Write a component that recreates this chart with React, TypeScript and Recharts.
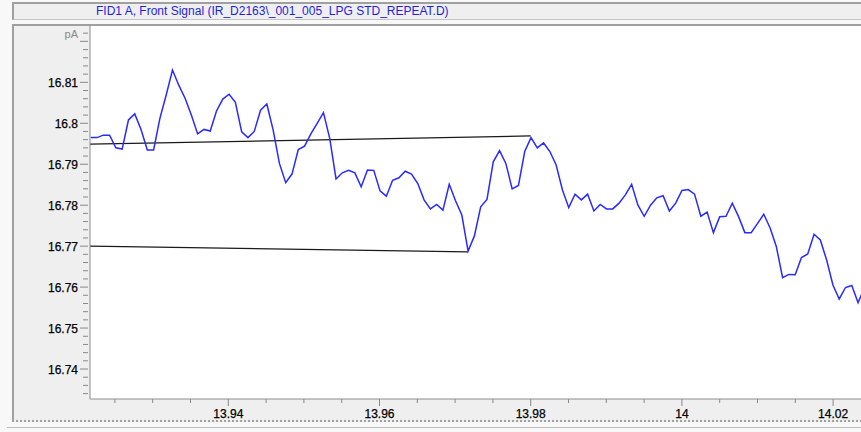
import React from 'react';
import { LineChart, Line, XAxis, YAxis, CartesianGrid } from 'recharts';

// Sampling grid of the detector signal (minutes)
const START_TIME = 13.9218;
const SAMPLE_STEP = 0.000832;

// FID1 A signal values (pA), one per sample
const signalValues = [
  16.7965, 16.7965, 16.7971, 16.7971, 16.794, 16.7937, 16.8008, 16.8023, 16.7985, 16.7935,
  16.7935, 16.8012, 16.8069, 16.813, 16.8093, 16.8061, 16.802, 16.7974, 16.7985, 16.7981,
  16.803, 16.8059, 16.8071, 16.8051, 16.7979, 16.7965, 16.798, 16.8032, 16.8047, 16.7984,
  16.7902, 16.7855, 16.7876, 16.7936, 16.7944, 16.7974, 16.8, 16.8026, 16.7963, 16.7864,
  16.7879, 16.7885, 16.7879, 16.7845, 16.7886, 16.7885, 16.7835, 16.7822, 16.7861, 16.7867,
  16.7883, 16.7876, 16.7853, 16.7813, 16.7791, 16.7802, 16.7788, 16.7851, 16.7811, 16.7776,
  16.7688, 16.7725, 16.7796, 16.7814, 16.7906, 16.7933, 16.7902, 16.784, 16.7848, 16.7931,
  16.7965, 16.794, 16.7952, 16.7931, 16.7898, 16.7837, 16.7794, 16.7827, 16.7813, 16.7827,
  16.7786, 16.7802, 16.7791, 16.7791, 16.7805, 16.7825, 16.7851, 16.78, 16.7773, 16.78,
  16.7818, 16.7823, 16.7786, 16.7805, 16.7836, 16.7838, 16.7827, 16.7773, 16.7783, 16.7733,
  16.7772, 16.7773, 16.7805, 16.7772, 16.7733, 16.7733, 16.7755, 16.7778, 16.7745, 16.7699,
  16.7623, 16.7631, 16.763, 16.7672, 16.7681, 16.7729, 16.7715, 16.7666, 16.7605, 16.7571,
  16.7599, 16.7604, 16.7562, 16.7598,
];

// Integration baselines
const upperBaselineTimes = [13.9217, 13.98];
const upperBaselineValues = [16.7949, 16.7969];
const lowerBaselineTimes = [13.9217, 13.9717];
const lowerBaselineValues = [16.77, 16.7686];

// Axes
const X_DOMAIN: [number, number] = [13.921706, 14.02369];
const Y_DOMAIN: [number, number] = [16.73268, 16.82375];
const xMajorTicks = [13.94, 13.96, 13.98, 14.0, 14.02];
const xTickLabels = ['13.94', '13.96', '13.98', '14', '14.02'];
const xMinorTicks = [
  13.925, 13.93, 13.935, 13.945, 13.95, 13.955, 13.965, 13.97, 13.975,
  13.985, 13.99, 13.995, 14.005, 14.01, 14.015,
];
const yMajorTicks = [16.74, 16.75, 16.76, 16.77, 16.78, 16.79, 16.8, 16.81, 16.82];
const yTickLabels = ['16.74', '16.75', '16.76', '16.77', '16.78', '16.79', '16.8', '16.81', 'pA'];
const yMinorTicks = [
  16.734, 16.736, 16.738, 16.742, 16.744, 16.746, 16.748, 16.752, 16.754, 16.756, 16.758,
  16.762, 16.764, 16.766, 16.768, 16.772, 16.774, 16.776, 16.778, 16.782, 16.784, 16.786,
  16.788, 16.792, 16.794, 16.796, 16.798, 16.802, 16.804, 16.806, 16.808, 16.812, 16.814,
  16.816, 16.818, 16.822,
];

const TITLE = 'FID1 A, Front Signal (IR_D2163\\_001_005_LPG STD_REPEAT.D)';

const signalData = signalValues.map((v, i) => ({ t: START_TIME + i * SAMPLE_STEP, v }));
const upperBaseline = upperBaselineTimes.map((t, i) => ({ t, v: upperBaselineValues[i] }));
const lowerBaseline = lowerBaselineTimes.map((t, i) => ({ t, v: lowerBaselineValues[i] }));

const FONT = '"Liberation Sans", Arial, sans-serif';
const PLOT_LEFT = 90;
const PLOT_BOTTOM = 399;

const majorIndex = (arr: number[], v: number) => arr.findIndex((m) => Math.abs(m - v) < 1e-7);

const YTick = (props: any) => {
  const { y, payload } = props;
  const idx = majorIndex(yMajorTicks, payload.value);
  if (idx < 0) {
    return <line x1={PLOT_LEFT - 7} x2={PLOT_LEFT - 2} y1={y} y2={y} stroke="#888" strokeWidth={1} />;
  }
  const label = yTickLabels[idx];
  const isUnit = label === 'pA';
  return (
    <g>
      <line x1={PLOT_LEFT - 10} x2={PLOT_LEFT - 2} y1={y} y2={y} stroke="#888" strokeWidth={1} />
      <text
        x={PLOT_LEFT - 12}
        y={isUnit ? y - 3 : y + 4.5}
        textAnchor="end"
        fontFamily={FONT}
        fontSize={isUnit ? 11 : 12}
        fill={isUnit ? '#8a8a8a' : '#000'}
        stroke={isUnit ? 'none' : '#000'}
        strokeWidth={isUnit ? 0 : 0.25}
      >
        {label}
      </text>
    </g>
  );
};

const XTick = (props: any) => {
  const { x, payload } = props;
  const idx = majorIndex(xMajorTicks, payload.value);
  if (idx < 0) {
    return <line x1={x} x2={x} y1={PLOT_BOTTOM} y2={PLOT_BOTTOM + 4} stroke="#888" strokeWidth={1} />;
  }
  return (
    <g>
      <line x1={x} x2={x} y1={PLOT_BOTTOM} y2={PLOT_BOTTOM + 7} stroke="#888" strokeWidth={1} />
      <text
        x={x}
        y={418}
        textAnchor="middle"
        fontFamily={FONT}
        fontSize={12}
        fill="#000"
        stroke="#000"
        strokeWidth={0.25}
      >
        {xTickLabels[idx]}
      </text>
    </g>
  );
};

export default function App() {
  const allY = [...yMinorTicks, ...yMajorTicks].sort((a, b) => a - b);
  const allX = [...xMinorTicks, ...xMajorTicks].sort((a, b) => a - b);
  return (
    <div
      style={{
        position: 'absolute',
        left: 0,
        top: 0,
        width: 861,
        height: 432,
        overflow: 'hidden',
        background: '#f8f8f8',
        fontFamily: FONT,
      }}
    >
      {/* title bar */}
      <div
        style={{
          position: 'absolute',
          left: 12,
          top: 2,
          width: 900,
          height: 15,
          background: '#efefef',
          borderTop: '2px solid #a0a0a0',
          borderLeft: '2px solid #a0a0a0',
          borderBottom: '1px solid #c4c4c4',
        }}
      >
        <div
          style={{
            position: 'absolute',
            left: 82,
            top: 0,
            fontSize: 12,
            lineHeight: '15px',
            color: '#1f1fe0',
            whiteSpace: 'nowrap',
          }}
        >
          {TITLE}
        </div>
      </div>
      {/* chart panel */}
      <div
        style={{
          position: 'absolute',
          left: 12,
          top: 24,
          width: 900,
          height: 394,
          background: '#efefef',
          borderTop: '2px solid #a0a0a0',
          borderLeft: '2px solid #a0a0a0',
          borderBottom: '2px dotted #a0a0a0',
        }}
      />
      <div
        style={{ position: 'absolute', left: 7, top: 427, width: 860, height: 1, background: '#bdbdbd' }}
      />
      <div style={{ position: 'absolute', left: 0, top: 0 }}>
        <LineChart width={861} height={432} margin={{ top: 26, right: 0, bottom: 3, left: 0 }}>
          <CartesianGrid horizontal={false} vertical={false} fill="#ffffff" stroke="none" />
          <XAxis
            type="number"
            dataKey="t"
            domain={X_DOMAIN}
            allowDataOverflow
            ticks={allX}
            interval={0}
            tickLine={false}
            axisLine={{ stroke: '#8c8c8c' }}
            tick={XTick}
            height={30}
          />
          <YAxis
            type="number"
            dataKey="v"
            domain={Y_DOMAIN}
            allowDataOverflow
            ticks={allY}
            interval={0}
            tickLine={false}
            axisLine={{ stroke: '#8c8c8c' }}
            tick={YTick}
            width={90}
          />
          <Line
            data={upperBaseline}
            dataKey="v"
            stroke="#1a1a1a"
            strokeWidth={1.2}
            dot={false}
            activeDot={false}
            isAnimationActive={false}
          />
          <Line
            data={lowerBaseline}
            dataKey="v"
            stroke="#1a1a1a"
            strokeWidth={1.2}
            dot={false}
            activeDot={false}
            isAnimationActive={false}
          />
          <Line
            data={signalData}
            dataKey="v"
            stroke="#2a2aff"
            strokeWidth={1.5}
            dot={false}
            activeDot={false}
            isAnimationActive={false}
          />
        </LineChart>
      </div>
    </div>
  );
}
